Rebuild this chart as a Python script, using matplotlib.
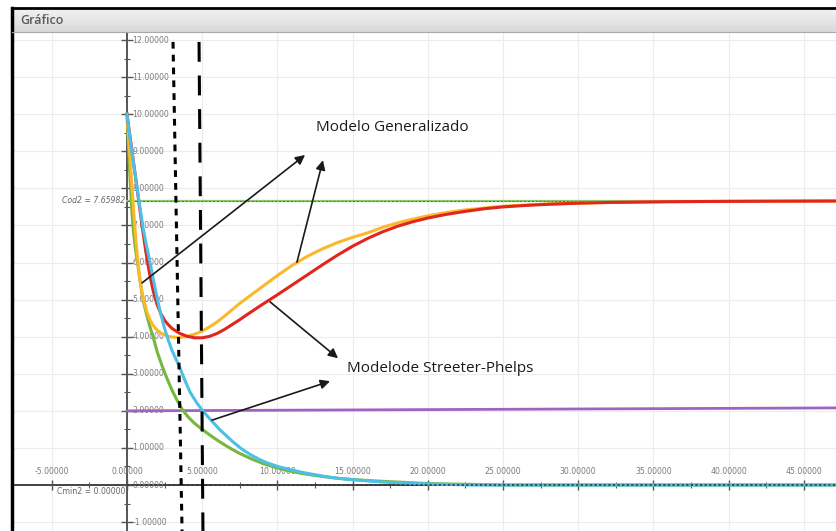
import numpy as np
import matplotlib
matplotlib.use("Agg")
import matplotlib.pyplot as plt

# --- datos de las curvas (tiempo, concentración) ---
t_rojo = [0, 0.25, 0.5, 0.75, 1.0, 1.25, 1.5, 1.75, 2.0, 2.25, 2.5, 2.75, 3.0, 3.5, 4.0, 4.5,
          5.0, 5.5, 6.0, 6.5, 7.0, 7.5, 8.0, 9.0, 10.0, 11.0, 12.0, 13.0, 14.0, 15.0, 16.0,
          17.0, 18.0, 19.0, 20.0, 21.25, 22.5, 23.75, 25.0, 26.5, 28.0, 30.0, 32.0, 36.0,
          40.0, 47.5]
c_rojo = [10.0, 9.25, 8.5, 7.75, 7.0, 6.3, 5.7, 5.22, 4.87, 4.62, 4.44, 4.32, 4.22, 4.09, 4.01,
          3.97, 3.97, 4.01, 4.09, 4.2, 4.33, 4.46, 4.6, 4.87, 5.13, 5.4, 5.67, 5.94, 6.2, 6.44,
          6.65, 6.83, 6.98, 7.1, 7.2, 7.3, 7.38, 7.45, 7.5, 7.54, 7.57, 7.6, 7.62, 7.64, 7.65,
          7.66]

t_amarillo = [0, 0.15, 0.3, 0.45, 0.6, 0.73, 0.86, 1.0, 1.15, 1.33, 1.5, 1.65, 1.8, 2.0, 2.25,
              2.5, 2.75, 3.0, 3.5, 4.0, 4.5, 5.0, 5.5, 6.0, 6.5, 7.0, 7.5, 8.0, 8.5, 9.0, 10.0,
              11.0, 12.0, 13.0, 14.0, 15.0, 16.0, 17.0, 18.0, 19.0, 20.0, 21.25, 22.5, 25.0,
              28.0, 32.0, 36.0, 40.0, 47.5]
c_amarillo = [10.0, 9.1, 8.2, 7.35, 6.55, 6.0, 5.55, 5.2, 4.92, 4.66, 4.48, 4.36, 4.27, 4.18,
              4.1, 4.05, 4.01, 3.99, 3.98, 4.01, 4.07, 4.15, 4.27, 4.4, 4.56, 4.73, 4.9, 5.05,
              5.2, 5.35, 5.65, 5.93, 6.17, 6.37, 6.54, 6.68, 6.8, 6.95, 7.07, 7.17, 7.26, 7.35,
              7.42, 7.52, 7.58, 7.62, 7.64, 7.65, 7.66]

t_verde = [0, 0.1, 0.2, 0.3, 0.4, 0.55, 0.7, 0.85, 1.0, 1.15, 1.3, 1.5, 1.7, 2.0, 2.3, 2.6,
           3.0, 3.35, 3.7, 4.1, 4.5, 5.0, 5.5, 6.0, 6.5, 7.0, 7.5, 8.3, 9.1, 10.0, 10.8, 11.5,
           12.3, 13.0, 14.0, 14.8, 15.7, 16.5, 18.0, 19.0, 20.0, 21.0, 22.5, 25.0, 47.5]
c_verde = [10.0, 9.1, 8.3, 7.55, 6.95, 6.4, 6.0, 5.55, 5.15, 4.85, 4.6, 4.3, 4.05, 3.6, 3.25,
           2.93, 2.55, 2.27, 2.02, 1.82, 1.66, 1.5, 1.35, 1.21, 1.08, 0.96, 0.85, 0.7, 0.57,
           0.46, 0.38, 0.32, 0.27, 0.23, 0.18, 0.155, 0.13, 0.11, 0.08, 0.06, 0.04, 0.03, 0.02,
           0.0, 0.0]

t_azul = [0, 0.25, 0.5, 0.8, 1.08, 1.3, 1.53, 1.75, 2.0, 2.25, 2.5, 2.75, 3.0, 3.25, 3.5,
          3.85, 4.2, 4.6, 5.0, 5.6, 6.2, 6.6, 7.0, 7.6, 8.2, 8.8, 9.3, 10.1, 11.0, 11.8, 12.6,
          13.5, 14.5, 15.7, 17.0, 18.5, 20.0, 21.5, 23.0, 47.5]
c_azul = [10.0, 9.2, 8.5, 7.65, 6.9, 6.45, 6.0, 5.55, 5.05, 4.6, 4.22, 3.9, 3.62, 3.4, 3.18,
          2.82, 2.5, 2.24, 2.02, 1.74, 1.48, 1.33, 1.18, 0.98, 0.82, 0.69, 0.6, 0.49, 0.4, 0.33,
          0.27, 0.21, 0.16, 0.12, 0.08, 0.05, 0.03, 0.015, 0.0, 0.0]

t_morado = [0, 47.5]
c_morado = [2.0, 2.08]

cod2 = 7.65982
cmin2 = 0.0

# marcas verticales dibujadas a mano (x arriba, x abajo)
marca_corta_x = [3.06, 3.66]
marca_larga_x = [4.79, 5.05]
marca_y = [11.95, -1.24]

x_ticks = list(range(-5, 50, 5))
y_ticks = list(range(-1, 13))

fig = plt.figure(figsize=(8.36, 5.31), dpi=100)
fig.patch.set_facecolor("white")

ax = fig.add_axes([13 / 836, 0, 823 / 836, 498 / 531])
ax.set_xlim(-7.58, 47.14)
ax.set_ylim(-1.24, 12.19)
for s in ax.spines.values():
    s.set_visible(False)
ax.set_xticks(x_ticks)
ax.set_yticks(y_ticks)
ax.tick_params(length=0, labelbottom=False, labelleft=False)
ax.grid(True, color="#ececec", lw=0.8)
ax.set_axisbelow(True)

gris = "#555555"
fuente_ejes = ["Liberation Sans Narrow", "DejaVu Sans"]

# ejes cartesianos
ax.axhline(0, color="#444444", lw=1.4, zorder=2)
ax.axvline(0, color=gris, lw=1.4, zorder=2)
ax.plot(np.zeros(len(y_ticks)), y_ticks, ls="none", marker="_", ms=8, mew=1, color=gris, zorder=2)
ax.plot(np.zeros(len(y_ticks) - 1), np.array(y_ticks[:-1]) + 0.5, ls="none", marker="_", ms=4,
        mew=0.8, color=gris, zorder=2)
ax.plot(x_ticks, np.zeros(len(x_ticks)), ls="none", marker="|", ms=7, mew=1, color=gris, zorder=2)
ax.plot(np.array(x_ticks) + 2.5, np.zeros(len(x_ticks)), ls="none", marker="|", ms=4, mew=0.8,
        color=gris, zorder=2)

for y in y_ticks:
    ax.text(0.35, y, f"{y:.5f}", fontsize=5.6, color="#7a7a7a", ha="left", va="center",
            family=fuente_ejes, zorder=3)
for x in x_ticks:
    ax.text(x, 0.36, f"{x:.5f}", fontsize=5.6, color="#7a7a7a", ha="center", va="center",
            family=fuente_ejes, zorder=3)

# líneas de referencia
ax.plot([0, 47.5], [cod2, cod2], color="#8cc66d", lw=1.6, zorder=3)
ax.plot([0, 47.5], [cod2, cod2], color="#3f7f25", lw=0.7, dashes=(2, 2), zorder=3)
ax.text(-0.1, cod2, f"Cod2 = {cod2:.5f}", fontsize=5.6, color="#666666", ha="right", va="center",
        family=fuente_ejes, style="italic", zorder=3)
ax.text(-0.1, cmin2 - 0.06, f"Cmin2 = {cmin2:.5f}", fontsize=5.6, color="#666666", ha="right",
        va="top", family=fuente_ejes, zorder=3)

# curvas
ax.plot(t_morado, c_morado, color="#a064c0", lw=2, zorder=4)
ax.plot(t_verde, c_verde, color="#76b83c", lw=2.2, zorder=5)
ax.plot(t_amarillo, c_amarillo, color="#fbb92a", lw=2.2, zorder=5)
ax.plot(t_rojo, c_rojo, color="#e0261d", lw=2.2, zorder=6)
ax.plot(t_azul, c_azul, color="#4cc0e6", lw=2.2, zorder=6)
ax.plot([0, 47.5], [cmin2, cmin2], color="#333333", lw=1.1, dashes=(1.5, 1.5), zorder=7)

# marcas verticales
ax.plot(marca_corta_x, marca_y, color="black", lw=2.2, dashes=(2.2, 2), zorder=8)
ax.plot(marca_larga_x, marca_y, color="black", lw=2.2, dashes=(6.5, 4.5), zorder=8)

# anotaciones
fuente_txt = ["Open Sans", "DejaVu Sans"]
flecha = dict(arrowstyle="-|>", color="#1a1a1a", lw=1.2, mutation_scale=14, shrinkA=0, shrinkB=0)
ax.annotate("", xy=(11.84, 8.90), xytext=(1.0, 5.45), arrowprops=flecha, zorder=9)
ax.annotate("", xy=(13.03, 8.76), xytext=(11.30, 6.01), arrowprops=flecha, zorder=9)
ax.annotate("", xy=(14.03, 3.42), xytext=(9.51, 4.94), arrowprops=flecha, zorder=9)
ax.annotate("", xy=(13.5, 2.80), xytext=(5.65, 1.75), arrowprops=flecha, zorder=9)
ax.text(12.57, 9.65, "Modelo Generalizado", fontsize=11, color="#1a1a1a", ha="left",
        va="center", family=fuente_txt, zorder=9)
ax.text(14.63, 3.13, "Modelode Streeter-Phelps", fontsize=11, color="#1a1a1a", ha="left",
        va="center", family=fuente_txt, zorder=9)

# barra de título de la ventana
barra = fig.add_axes([12 / 836, (531 - 32) / 531, 1 - 12 / 836, 24 / 531])
grad = np.linspace(0, 1, 50).reshape(-1, 1)
barra.imshow(grad, aspect="auto", cmap=matplotlib.colors.LinearSegmentedColormap.from_list(
    "barra", ["#f3f3f3", "#d9d9d9"]), extent=[0, 1, 0, 1])
barra.set_xlim(0, 1)
barra.set_ylim(0, 1)
barra.axis("off")
barra.text(8 / 824, 0.5, "Gráfico", fontsize=9, color="#5a5a5a", weight="semibold",
           ha="left", va="center", family=fuente_txt)

# bordes del marco
fig.add_artist(plt.Line2D([12 / 836, 1], [(531 - 8) / 531] * 2, color="black", lw=2))
fig.add_artist(plt.Line2D([12 / 836] * 2, [0, (531 - 8) / 531], color="black", lw=2.5))
fig.add_artist(plt.Line2D([12 / 836, 1], [(531 - 32) / 531] * 2, color="#a8a8a8", lw=0.8))

fig.savefig("out.png", dpi=100)
